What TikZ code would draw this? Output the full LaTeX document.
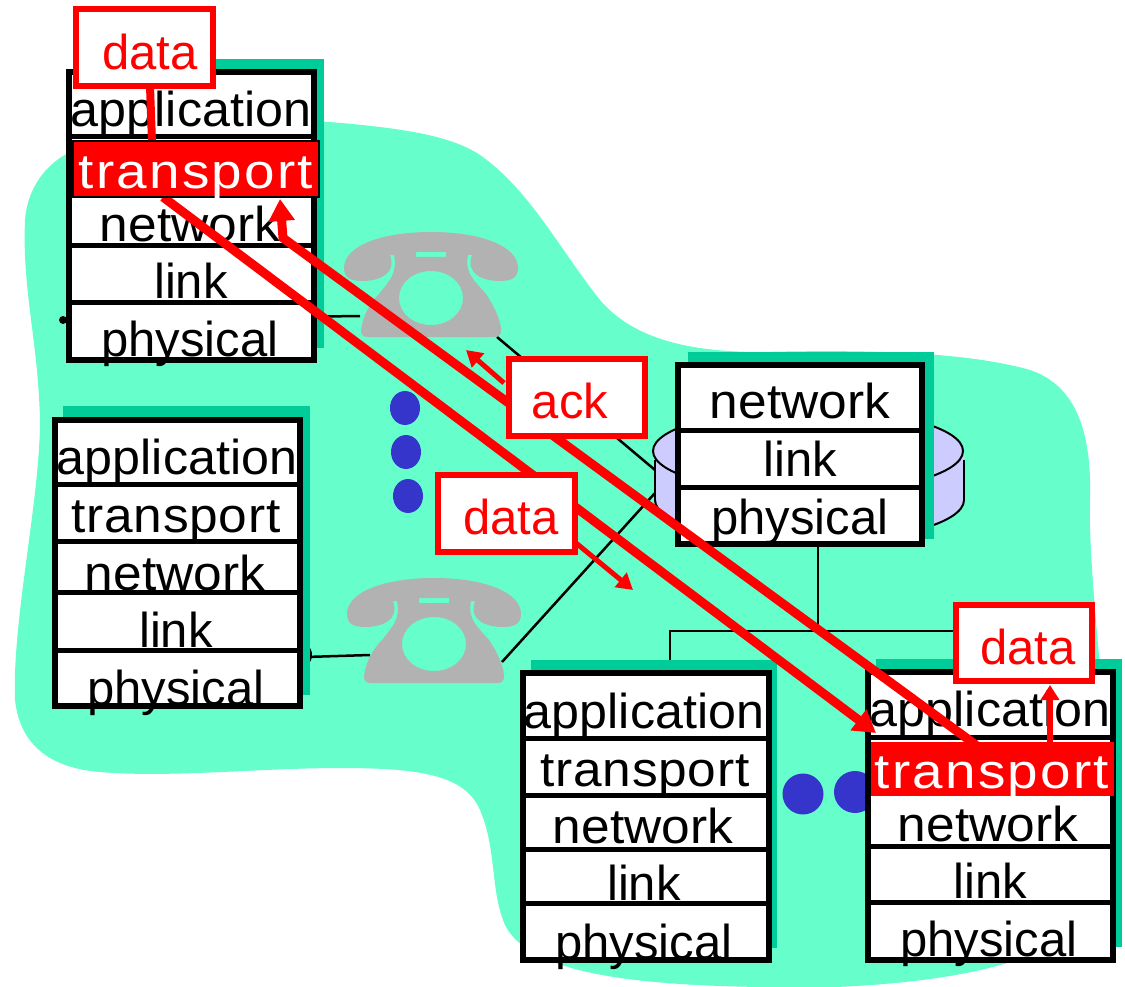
\documentclass[tikz,border=0pt]{standalone}
\usepackage{fontspec}
\usepackage{graphicx}
\setmainfont{Liberation Sans}
\newfontfamily\spreadA[LetterSpace=1.5]{Liberation Sans}
\newfontfamily\spreadB[LetterSpace=4]{Liberation Sans}
\newcommand{\wordApp}{\scalebox{1.025}[1]{application}}
\newcommand{\wordNet}{\scalebox{1.05}[1]{network}}
\newcommand{\wordTr}{\scalebox{1.05}[1]{\fontsize{49}{49}\spreadA transport}}
\newcommand{\wordTrW}{\scalebox{1.12}[1]{\fontsize{49}{49}\spreadB transport}}
\usetikzlibrary{fit,arrows.meta}
\definecolor{blob}{RGB}{102,255,204}
\definecolor{shadowgreen}{RGB}{0,204,153}
\definecolor{dotblue}{RGB}{53,53,204}
\definecolor{phonegray}{RGB}{178,178,178}
\definecolor{disk}{RGB}{204,204,255}
\tikzset{
  x=1pt,y=-1pt,
  shadowbox/.style={fit={#1},inner sep=0pt,outer sep=0pt,fill=shadowgreen},
  stackbox/.style={fit={#1},inner sep=0pt,outer sep=0pt,draw=black,line width=6pt,fill=white},
  divider/.style={draw=black,line width=5pt},
  layertext/.style={anchor=base,inner sep=0pt,yshift=-1.5pt,font=\fontsize{49}{49}\selectfont},
  datatext/.style={layertext,text=red},
  msgbox/.style={fit={#1},inner sep=0pt,outer sep=0pt,draw=red,line width=6pt,fill=white},
  transportbox/.style={fit={#1},inner sep=0pt,outer sep=0pt,fill=red},
  wire/.style={draw=black,line width=2.5pt},
  redpath/.style={draw=red,line width=9pt},
  bigarrow/.style={redpath,-{Triangle[length=22pt,width=25pt]}},
  smallarrow/.style={draw=red,line width=5pt,-{Triangle[length=16pt,width=18pt]}},
  dot/.style={fill=dotblue},
  diskline/.style={draw=black,line width=2pt},
  phone/.pic={
    \fill[phonegray,even odd rule]
      (-87,36) .. controls (-87,14) and (-50,0) .. (0,0)
      .. controls (50,0) and (87,14) .. (87,36)
      .. controls (87,46) and (80,49) .. (69,49)
      .. controls (52,49) and (34,42) .. (41,23)
      -- (37,23)
      .. controls (33,42) and (45,50) .. (55,62)
      .. controls (62,72) and (70,88) .. (70,98)
      .. controls (70,105) and (66,105) .. (62,105)
      -- (-62,105)
      .. controls (-66,105) and (-70,105) .. (-70,98)
      .. controls (-68,84) and (-62,72) .. (-52,62)
      .. controls (-43,50) and (-33,42) .. (-37,23)
      -- (-41,23)
      .. controls (-34,42) and (-52,49) .. (-69,49)
      .. controls (-80,49) and (-87,46) .. (-87,36) -- cycle
      (-32,66) .. controls (-32,51) and (-18,39) .. (0,39)
      .. controls (18,39) and (32,51) .. (32,66)
      .. controls (32,81) and (18,93) .. (0,93)
      .. controls (-18,93) and (-32,81) .. (-32,66) -- cycle
      (-15,20) -- (15,20) -- (15,25) -- (-15,25) -- cycle;
  }
}
\begin{document}
\begin{tikzpicture}
\useasboundingbox (0,0) rectangle (1125,987);
% network cloud
\fill[blob] (75,150) .. controls (150,125) and (260,118) .. (330,122)
  .. controls (400,128) and (450,135) .. (480,155)
  .. controls (530,190) and (560,250) .. (600,300)
  .. controls (630,335) and (680,352) .. (760,352)
  .. controls (850,350) and (960,350) .. (1030,370)
  .. controls (1075,385) and (1092,430) .. (1090,500)
  .. controls (1088,570) and (1105,700) .. (1118,880)
  .. controls (1120,930) and (1060,950) .. (1000,965)
  .. controls (930,985) and (820,990) .. (760,987)
  .. controls (640,985) and (530,975) .. (505,925)
  .. controls (490,890) and (497,850) .. (480,810)
  .. controls (465,775) and (420,768) .. (340,768)
  .. controls (260,768) and (170,778) .. (100,772)
  .. controls (50,768) and (20,745) .. (15,700)
  .. controls (12,620) and (40,500) .. (40,420)
  .. controls (38,340) and (22,290) .. (25,220)
  .. controls (27,190) and (45,162) .. (75,150) -- cycle;

% router disk
\fill[disk] (655,451) -- (655,500) arc[start angle=180,end angle=0,x radius=154.5,y radius=42] -- (964,451) -- cycle;
\fill[disk] (808,451) ellipse[x radius=155,y radius=42];
\draw[diskline] (808,451) ellipse[x radius=155,y radius=42];
\draw[diskline,line width=1.2pt] (655,460) -- (655,500);
\draw[diskline] (964,460) -- (964,500);
\draw[diskline] (655,500) arc[start angle=180,end angle=0,x radius=154.5,y radius=42];

% end points of the wires
\coordinate (w1a) at (62,320);
\coordinate (w1b) at (360,316);
\coordinate (w2a) at (497,337);
\coordinate (w2b) at (655,470);
\coordinate (w3a) at (502,662);
\coordinate (w3b) at (655,493);
\coordinate (w4a) at (306,657);
\coordinate (w4b) at (370,655);
\coordinate (w5a) at (818,547);
\coordinate (w5b) at (818,631);
\coordinate (w6a) at (670,660);
\coordinate (w6b) at (670,631);
\coordinate (w6c) at (955,631);
\draw[wire] (w1a) -- (w1b);
\draw[wire] (w2a) -- (w2b);
\draw[wire] (w3a) -- (w3b);
\draw[wire] (w4a) -- (w4b);
\draw[wire] (w5a) -- (w5b);
\draw[wire] (w6a) -- (w6b) -- (w6c);
\fill (63,320) circle[radius=4];
\fill (308,655) circle[x radius=4,y radius=8];

% telephones
\pic at (431,232) {phone};
\pic at (434,578) {phone};

% blue dots
\fill[dot] (405,408) ellipse[x radius=15,y radius=17];
\fill[dot] (406,452) ellipse[x radius=15,y radius=17];
\fill[dot] (408,496) ellipse[x radius=15,y radius=17];
\fill[dot] (803,794) circle[radius=20.5];
\fill[dot] (855,792) circle[radius=21];

% host A
\node[shadowbox={(75,59)(324,348)}] (shadowA) {};
\node[stackbox={(69,72)(314,360)}] (hostA) {};
\draw[divider] (hostA.west |- 0,137) -- (hostA.east |- 0,137);
\draw[divider] (hostA.west |- 0,246) -- (hostA.east |- 0,246);
\draw[divider] (hostA.west |- 0,302) -- (hostA.east |- 0,302);
\node[layertext] (A-app) at (191,125) {\wordApp};
\node[layertext] (A-net) at (190,240) {\wordNet};
\node[layertext] (A-link) at (191,297) {link};
\node[layertext] (A-phy) at (190,355) {physical};

% host B
\node[shadowbox={(63,406)(310,695)}] (shadowB) {};
\node[stackbox={(55,420)(300,706)}] (hostB) {};
\draw[divider] (hostB.west |- 0,484) -- (hostB.east |- 0,484);
\draw[divider] (hostB.west |- 0,541) -- (hostB.east |- 0,541);
\draw[divider] (hostB.west |- 0,592) -- (hostB.east |- 0,592);
\draw[divider] (hostB.west |- 0,650) -- (hostB.east |- 0,650);
\node[layertext] (B-app) at (177,473) {\wordApp};
\node[layertext] (B-trans) at (176,531) {\wordTr};
\node[layertext] (B-net) at (175,589) {\wordNet};
\node[layertext] (B-link) at (176,646) {link};
\node[layertext] (B-phy) at (176,704) {physical};

% router
\node[shadowbox={(688,352)(934,539)}] (shadowR) {};
\node[stackbox={(678,365)(922,544)}] (router) {};
\draw[divider] (router.west |- 0,430) -- (router.east |- 0,430);
\draw[divider] (router.west |- 0,487) -- (router.east |- 0,487);
\node[layertext] (R-net) at (800,417) {\wordNet};
\node[layertext] (R-link) at (800,475) {link};
\node[layertext] (R-phy) at (800,533) {physical};

% host C
\node[shadowbox={(531,660)(777,948)}] (shadowC) {};
\node[stackbox={(523,673)(769,960)}] (hostC) {};
\draw[divider] (hostC.west |- 0,738) -- (hostC.east |- 0,738);
\draw[divider] (hostC.west |- 0,795) -- (hostC.east |- 0,795);
\draw[divider] (hostC.west |- 0,849) -- (hostC.east |- 0,849);
\draw[divider] (hostC.west |- 0,903) -- (hostC.east |- 0,903);
\node[layertext] (C-app) at (644,727) {\wordApp};
\node[layertext] (C-trans) at (645,785) {\wordTr};
\node[layertext] (C-net) at (643,842) {\wordNet};
\node[layertext] (C-link) at (644,899) {link};
\node[layertext] (C-phy) at (644,958) {physical};

% host D
\node[shadowbox={(876,659)(1122,947)}] (shadowD) {};
\node[stackbox={(868,672)(1113,960)}] (hostD) {};
\draw[divider] (hostD.west |- 0,737) -- (hostD.east |- 0,737);
\draw[divider] (hostD.west |- 0,846) -- (hostD.east |- 0,846);
\draw[divider] (hostD.west |- 0,902) -- (hostD.east |- 0,902);
\node[layertext] (D-app) at (990,725) {\wordApp};
\node[layertext] (D-net) at (988,840) {\wordNet};
\node[layertext] (D-link) at (990,897) {link};
\node[layertext] (D-phy) at (989,955) {physical};

% end points of the red paths
\coordinate (dataStart) at (163,197);
\coordinate (dataEnd) at (876,733);
\coordinate (ackStart) at (976,745);
\coordinate (ackBend) at (283,238);
\coordinate (ackEnd) at (280,199);
\coordinate (d1top) at (150,86);
\coordinate (d1bot) at (152,142);
\coordinate (d3bot) at (1050,745);
\coordinate (d3top) at (1050,685);
\coordinate (ackArrowA) at (504,383);
\coordinate (ackArrowB) at (466,350);
\coordinate (dataArrowA) at (576,543);
\coordinate (dataArrowB) at (633,590);

\draw[bigarrow] (dataStart) -- (dataEnd);
\draw[bigarrow] (ackStart) -- (ackBend) -- (ackEnd);
\draw[redpath,line width=8pt] (d1top) -- (d1bot);
\draw[draw=red,line width=5.5pt,-{Triangle[length=15pt,width=18pt]}] (d3bot) -- (d3top);
\draw[smallarrow] (ackArrowA) -- (ackArrowB);
\draw[smallarrow] (dataArrowA) -- (dataArrowB);

% transport layers in red
\node[transportbox={(73,141)(319,197)},draw=black,line width=2pt] (A-tbox) {};
\node[layertext,text=white] (A-trans) at (196,187) {\wordTrW};
\node[transportbox={(871,742)(1114,796)}] (D-tbox) {};
\node[layertext,text=white] (D-trans) at (992,787) {\wordTrW};

% message boxes
\node[msgbox={(76,9)(213,86)}] (msgA) {};
\node[datatext] (msgAt) at (150,68) {data};
\node[msgbox={(509,359)(645,436)}] (msgAck) {};
\node[datatext] (msgAckt) at (570,417) {ack};
\node[msgbox={(438,475)(575,552)}] (msgB) {};
\node[datatext] (msgBt) at (511,533) {data};
\node[msgbox={(956,605)(1092,681)}] (msgD) {};
\node[datatext] (msgDt) at (1028,663) {data};
\end{tikzpicture}
\end{document}
